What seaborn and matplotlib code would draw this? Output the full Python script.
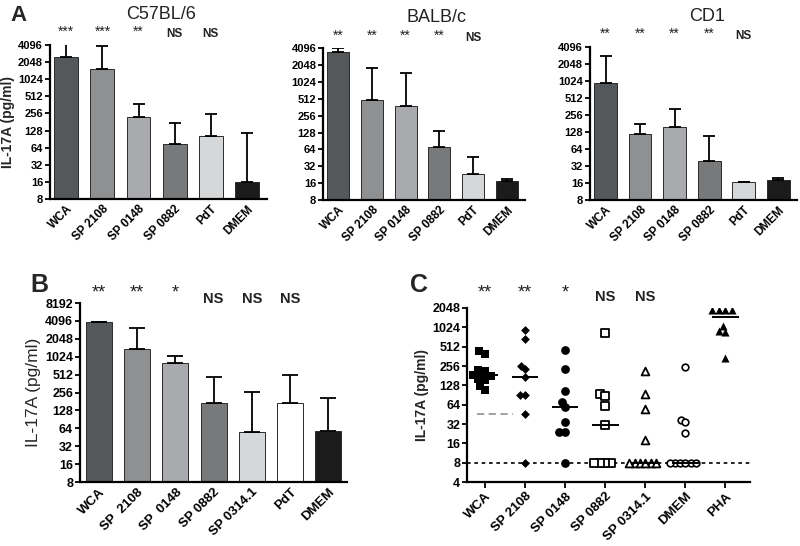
import numpy as np
import pandas as pd
import matplotlib
matplotlib.use("Agg")
import matplotlib.pyplot as plt
import seaborn as sns

sns.set_theme(style="ticks")
plt.rcParams['font.family'] = ['Liberation Sans', 'DejaVu Sans']

# ---------------- data ----------------
cats_a = ["WCA", "SP 2108", "SP 0148", "SP 0882", "PdT", "DMEM"]
colors_a = ["#54585c", "#8e9093", "#a8aaae", "#77797c", "#d6d7d8", "#1b1b1b"]

c57_vals = [2560, 1530, 220, 74, 103, 15.8]
c57_upper = [4200, 3950, 377, 175, 254, 115]
c57_sig = ["***", "***", "**", "NS", "NS", ""]

balb_vals = [3470, 491, 378, 72, 23.5, 17.8]
balb_upper = [4096, 1850, 1490, 135, 46, 19.2]
balb_sig = ["**", "**", "**", "**", "NS", ""]

cd1_vals = [962, 120, 155, 39, 16.4, 18]
cd1_upper = [2800, 181, 333, 107, 16.4, 20]
cd1_sig = ["**", "**", "**", "**", "NS", ""]

ticks_a = [8, 16, 32, 64, 128, 256, 512, 1024, 2048, 4096]

cats_b = ["WCA", "SP  2108", "SP  0148", "SP 0882", "SP 0314.1", "PdT", "DMEM"]
colors_b = ["#54585c", "#8e9093", "#a8aaae", "#77797c", "#d6d7d8", "#ffffff", "#1b1b1b"]
b_vals = [3930, 1380, 805, 170, 55, 168, 58]
b_upper = [4000, 3060, 1070, 460, 262, 512, 207]
b_sig = ["**", "**", "*", "NS", "NS", "NS", ""]
ticks_b = [8, 16, 32, 64, 128, 256, 512, 1024, 2048, 4096, 8192]

cats_c = ["WCA", "SP 2108", "SP 0148", "SP 0882", "SP 0314.1", "DMEM", "PHA"]
c_wca = [434, 400, 224, 211, 187, 181, 162, 157, 126, 107]
c_2108 = [944, 676, 259, 232, 172, 92, 92, 46, 8]
c_0148 = [449, 229, 103, 70, 58, 34, 24, 24, 8]
c_0882 = [837, 95, 86, 62, 31, 8, 8, 8, 8]
c_0314 = [217, 95, 55, 18, 8, 8, 8, 8, 8, 8]
c_dmem = [244, 37, 34, 23, 8, 8, 8, 8, 8, 8]
c_pha = [1900, 1900, 1900, 1900, 1063, 887, 856, 338]
c_sig = ["**", "**", "*", "NS", "NS", "", ""]
c_detect = 8
c_ref_line = 46
ticks_c = [4, 8, 16, 32, 64, 128, 256, 512, 1024, 2048]

# ---------------- figure ----------------
fig = plt.figure(figsize=(8, 5.46), dpi=100)


def style_axes(ax, ticks, tsize):
    for s in ["top", "right"]:
        ax.spines[s].set_visible(False)
    for s in ["left", "bottom"]:
        ax.spines[s].set_linewidth(1.6)
        ax.spines[s].set_color("black")
    ax.set_yscale("log", base=2)
    ax.set_yticks(ticks)
    ax.set_yticklabels([str(t) for t in ticks], fontsize=tsize, fontweight="bold")
    ax.yaxis.set_minor_locator(matplotlib.ticker.NullLocator())
    ax.set_ylim(ticks[0], ticks[-1])
    ax.tick_params(axis="y", direction="out", length=3.5, width=1.3, pad=1.5, colors="black")
    ax.set_xlabel("")
    ax.set_ylabel("")


def bar_panel(ax, cats, vals, upper, colors, sig, ticks, tsize, xsize, width,
              capsize, star_y, ns_y, star_size, ns_size, xlim):
    df = pd.DataFrame({"cat": cats, "val": vals})
    sns.barplot(data=df, x="cat", y="val", hue="cat", palette=colors, legend=False,
                errorbar=None, width=width, edgecolor="#2a2a2a", linewidth=0.7, ax=ax)
    x = np.arange(len(cats))
    err = np.array(upper) - np.array(vals)
    ax.errorbar(x, vals, yerr=[np.zeros(len(vals)), err], fmt="none", ecolor="black",
                elinewidth=1.3, capsize=capsize, capthick=1.3, zorder=1)
    style_axes(ax, ticks, tsize)
    ax.set_xlim(*xlim)
    ax.set_xticks(x)
    ax.set_xticklabels(cats, rotation=45, ha="right", rotation_mode="anchor",
                       fontsize=xsize, fontweight="bold")
    ax.tick_params(axis="x", length=0, pad=3, colors="black")
    trans = ax.get_xaxis_transform()
    for xi, s in zip(x, sig):
        if not s:
            continue
        if s == "NS":
            ax.text(xi, ns_y, s, transform=trans, ha="center", va="center",
                    fontsize=ns_size, fontweight="bold", color="#222222")
        else:
            ax.text(xi, star_y, s, transform=trans, ha="center", va="center",
                    fontsize=star_size, color="#222222")


# Panel A
axA1 = fig.add_axes([0.0625, 0.6355, 0.271, 0.282])
axA2 = fig.add_axes([0.404, 0.6337, 0.2525, 0.278])
axA3 = fig.add_axes([0.7375, 0.6337, 0.259, 0.280])
for ax, vals, up, sig, title, tx in [
        (axA1, c57_vals, c57_upper, c57_sig, "C57BL/6", 0.51),
        (axA2, balb_vals, balb_upper, balb_sig, "BALB/c", 0.56),
        (axA3, cd1_vals, cd1_upper, cd1_sig, "CD1", 0.565)]:
    bar_panel(ax, cats_a, vals, up, colors_a, sig, ticks_a, 8, 8.5, 0.66, 4.5,
              1.085, 1.07, 10, 8.5, (-0.45, 5.55))
    ax.text(tx, 1.20, title, transform=ax.transAxes, ha="center", va="center",
            fontsize=13, color="#222222")
axA1.set_ylabel("IL-17A (pg/ml)", fontsize=10, fontweight="bold", labelpad=2)
fig.text(0.013, 0.972, "A", fontsize=16, fontweight="bold", va="center", ha="left")

# Panel B
axB = fig.add_axes([0.100, 0.117, 0.334, 0.328])
bar_panel(axB, cats_b, b_vals, b_upper, colors_b, b_sig, ticks_b, 9, 9.5, 0.68, 5.5,
          1.055, 1.025, 13, 10.5, (-0.5, 6.5))
axB.set_ylabel("IL-17A (pg/ml)", fontsize=12.5, labelpad=3)
fig.text(0.038, 0.478, "B", fontsize=18, fontweight="bold", va="center", ha="left")

# Panel C
axC = fig.add_axes([0.584, 0.117, 0.354, 0.319])
style_axes(axC, ticks_c, 9)
axC.set_xlim(-0.45, 6.625)
groups = [c_wca, c_2108, c_0148, c_0882, c_0314, c_dmem, c_pha]
# (marker, face, edge, edge width, swarm layout size, drawn size)
styles = [
    ("s", "black", "black", 0.0, 4.8, 6.4),
    ("D", "black", "black", 0.0, 3.4, 4.5),
    ("o", "black", "black", 0.0, 4.4, 6.3),
    ("s", "white", "black", 1.3, 2.6, 5.6),
    ("^", "white", "black", 1.3, 2.4, 5.6),
    ("o", "white", "black", 1.2, 2.4, 4.8),
    ("^", "black", "black", 0.0, 4.6, 5.8),
]
axC.axhline(c_detect, color="black", lw=1.2, ls=(0, (2.2, 2.2)), zorder=1)
axC.hlines(c_ref_line, -0.2, 0.7, colors="#9a9a9a", lw=1.3, linestyles=(0, (4, 2.5)), zorder=1)
swarm_colls = []
for cat, vals, (mk, fc, ec, lw, lay, drawn) in zip(cats_c, groups, styles):
    sub = pd.DataFrame({"group": [cat] * len(vals), "value": vals})
    n_before = len(axC.collections)
    sns.swarmplot(data=sub, x="group", y="value", order=cats_c, ax=axC,
                  warn_thresh=1, zorder=3, marker=mk, color=fc, edgecolor=ec,
                  linewidth=lw, size=lay)
    for coll in axC.collections[n_before:]:
        swarm_colls.append((coll, drawn))
for i, vals in enumerate(groups):
    axC.hlines(np.median(vals), i - 0.33, i + 0.33, colors="black", lw=1.4, zorder=4)
style_axes(axC, ticks_c, 9)
axC.set_xlim(-0.45, 6.625)
axC.set_xticks(np.arange(len(cats_c)))
axC.set_xticklabels(cats_c, rotation=45, ha="right", rotation_mode="anchor",
                    fontsize=9.5, fontweight="bold")
axC.tick_params(axis="x", direction="out", length=4, width=1.3, pad=2, colors="black")
axC.set_ylabel("IL-17A (pg/ml)", fontsize=10, fontweight="bold", labelpad=2)
transC = axC.get_xaxis_transform()
for xi, s in enumerate(c_sig):
    if not s:
        continue
    if s == "NS":
        axC.text(xi, 1.065, s, transform=transC, ha="center", va="center",
                 fontsize=10.5, fontweight="bold", color="#222222")
    else:
        axC.text(xi, 1.085, s, transform=transC, ha="center", va="center",
                 fontsize=13, color="#222222")
fig.text(0.513, 0.478, "C", fontsize=18, fontweight="bold", va="center", ha="left")

# let seaborn lay out the swarms with compact spacing, then freeze and enlarge markers
fig.canvas.draw()
for coll, drawn in swarm_colls:
    if "draw" in coll.__dict__:
        del coll.draw
    coll.set_sizes([drawn ** 2])

fig.savefig("out.png", dpi=100)
